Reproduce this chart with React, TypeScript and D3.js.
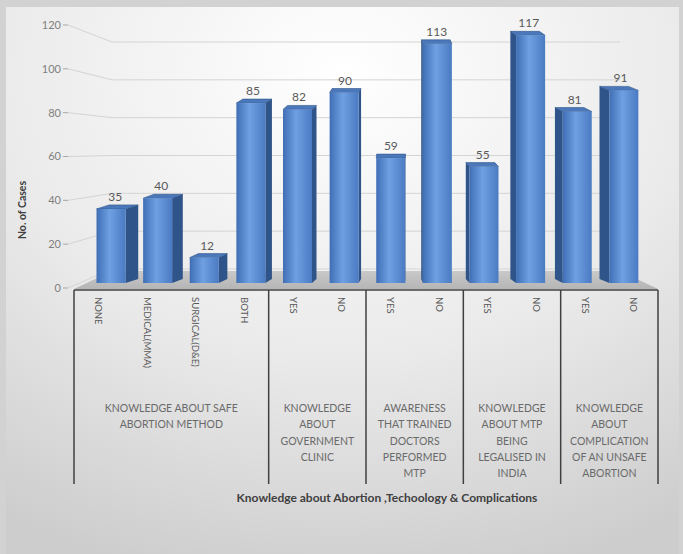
import React from "react";
import * as d3 from "d3";

// bar categories (x axis, rotated labels)
const categories = [
  "NONE", "MEDICAL(MMA)", "SURGICAL(D&E)", "BOTH",
  "YES", "NO", "YES", "NO", "YES", "NO", "YES", "NO",
];
const groupIndex = [0, 0, 0, 0, 1, 1, 2, 2, 3, 3, 4, 4];
const values = [35, 40, 12, 85, 82, 90, 59, 113, 55, 117, 81, 91];

const groupLabels = [
  ["KNOWLEDGE ABOUT SAFE", "ABORTION METHOD"],
  ["KNOWLEDGE", "ABOUT", "GOVERNMENT", "CLINIC"],
  ["AWARENESS", "THAT TRAINED", "DOCTORS", "PERFORMED", "MTP"],
  ["KNOWLEDGE", "ABOUT MTP", "BEING", "LEGALISED IN", "INDIA"],
  ["KNOWLEDGE", "ABOUT", "COMPLICATION", "OF AN UNSAFE", "ABORTION"],
];
const yTicks = [0, 20, 40, 60, 80, 100, 120];

const W = 683;
const H = 554;
const font = "Lato, 'Open Sans', sans-serif";

const App = () => {
  const x = d3.scaleBand<number>()
    .domain(values.map((_, i) => i))
    .range([74, 658])
    .padding(0);
  const bw = x.bandwidth();

  const yBar = d3.scaleLinear().domain([0, 120]).range([283, 29]);
  const yAxis = d3.scaleLinear().domain([0, 120]).range([288, 25]);
  const yBack = d3.scaleLinear().domain([0, 120]).range([269, 42]);

  const vp = 400;
  const depthY = -4;

  // group extents
  const groups = groupLabels.map((lines, g) => {
    const idx = groupIndex.map((gi, i) => (gi === g ? i : -1)).filter(i => i >= 0);
    const x0 = x(idx[0])!;
    const x1 = x(idx[idx.length - 1])! + bw;
    return { lines, x0, x1 };
  });

  const tableTop = 290;
  const tableBottom = 484;

  return (
    <svg width={W} height={H} style={{ position: "absolute", left: 0, top: 0 }}>
      <defs>
        <radialGradient id="bg" cx="50%" cy="12%" r="95%">
          <stop offset="0%" stopColor="#ffffff" />
          <stop offset="55%" stopColor="#eaeaea" />
          <stop offset="100%" stopColor="#cdcdcd" />
        </radialGradient>
        <linearGradient id="front" x1="0" x2="1" y1="0" y2="0">
          <stop offset="0%" stopColor="#3f6eb5" />
          <stop offset="45%" stopColor="#6fa0e2" />
          <stop offset="100%" stopColor="#4a7bc3" />
        </linearGradient>
        <linearGradient id="floor" x1="0" x2="0" y1="0" y2="1">
          <stop offset="0%" stopColor="#c9c9c9" />
          <stop offset="100%" stopColor="#b5b5b5" />
        </linearGradient>
      </defs>

      <rect x={0} y={0} width={W} height={H} fill="#d2d2d2" />
      <rect x={6} y={7} width={W - 10} height={H - 7} fill="url(#bg)" />

      {/* gridlines: side wall + back wall */}
      {yTicks.map(t => (
        <g key={"g" + t}>
          <polyline
            points={`68,${yAxis(t)} 112,${yBack(t)} 620,${yBack(t)}`}
            fill="none"
            stroke="#d4d4d4"
            strokeWidth={1}
          />
          <text
            x={61}
            y={yAxis(t)}
            dy="0.35em"
            textAnchor="end"
            fontSize={11}
            fontFamily={font}
            fill="#808080"
          >
            {t}
          </text>
          <line x1={63} x2={68} y1={yAxis(t)} y2={yAxis(t)} stroke="#a6a6a6" />
        </g>
      ))}

      {/* floor */}
      <polygon
        points={`74,289 658,289 620,271 112,271`}
        fill="url(#floor)"
      />

      {/* bars */}
      {values.map((v, i) => {
        const bc = x(i)! + bw / 2;
        const fc = bc + (vp - bc) * 0.042;
        const fw = 29;
        const x0 = fc - fw / 2;
        const x1 = fc + fw / 2;
        const yt = yBar(v);
        const yb = yBar(0);
        const dx = (vp - fc) * 0.044;
        const side =
          dx > 0
            ? `${x1},${yt} ${x1 + dx},${yt + depthY} ${x1 + dx},${yb + depthY} ${x1},${yb}`
            : `${x0},${yt} ${x0 + dx},${yt + depthY} ${x0 + dx},${yb + depthY} ${x0},${yb}`;
        const top = `${x0},${yt} ${x1},${yt} ${x1 + dx},${yt + depthY} ${x0 + dx},${yt + depthY}`;
        return (
          <g key={"b" + i}>
            <polygon points={side} fill="#2f5489" />
            <polygon points={top} fill="#4a78ba" stroke="#2f5489" strokeWidth={0.6} />
            <rect x={x0} y={yt} width={fw} height={yb - yt} fill="url(#front)" />
            <text
              x={fc + dx / 3}
              y={yt - 8}
              textAnchor="middle"
              fontSize={12}
              fontFamily={font}
              fill="#595959"
            >
              {v}
            </text>
          </g>
        );
      })}

      {/* category table */}
      <line x1={74} x2={658} y1={tableTop} y2={tableTop} stroke="#404040" strokeWidth={1.5} />
      {[74, ...groups.map(g => g.x1)].map((gx, k) => (
        <line
          key={"v" + k}
          x1={gx}
          x2={gx}
          y1={tableTop}
          y2={tableBottom}
          stroke="#404040"
          strokeWidth={1.5}
        />
      ))}

      {categories.map((c, i) => {
        const cx = x(i)! + bw / 2;
        return (
          <text
            key={"c" + i}
            transform={`translate(${cx},297) rotate(90)`}
            dy="0.35em"
            textAnchor="start"
            fontSize={9.5}
            fontFamily={font}
            fill="#595959"
          >
            {c}
          </text>
        );
      })}

      {groups.map((g, k) => (
        <text
          key={"gl" + k}
          textAnchor="middle"
          fontSize={10.5}
          fontFamily={font}
          fill="#6a6a6a"
        >
          {g.lines.map((ln, j) => (
            <tspan key={j} x={(g.x0 + g.x1) / 2} y={412 + j * 16.3}>
              {ln}
            </tspan>
          ))}
        </text>
      ))}

      {/* axis titles */}
      <text
        transform={`translate(22,210) rotate(-90)`}
        dy="0.35em"
        textAnchor="middle"
        fontSize={10.5}
        fontWeight="bold"
        fontFamily={font}
        fill="#404040"
      >
        No. of Cases
      </text>
      <text
        x={387}
        y={502}
        textAnchor="middle"
        fontSize={12}
        fontWeight="bold"
        fontFamily={font}
        fill="#404040"
      >
        Knowledge about Abortion ,Techoology &amp; Complications
      </text>
    </svg>
  );
};

export default App;
